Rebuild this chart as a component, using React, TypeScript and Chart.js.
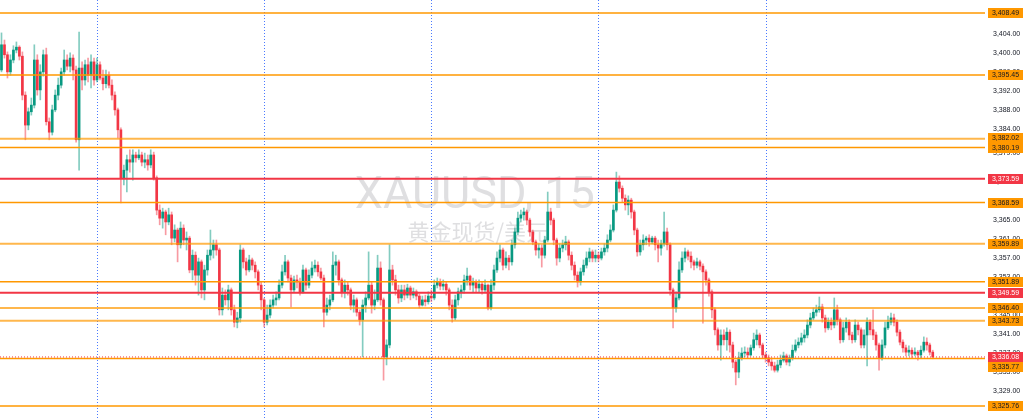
import React, { useEffect, useRef } from 'react';
import { Chart, registerables } from 'chart.js';

Chart.register(...registerables);

// ---- data (XAUUSD 15m candles) ----
const firstOpen = 3396.5;

const closes = [
  3401.8, 3399.7, 3396.1, 3398.6, 3400.7, 3401.3, 3399.4, 3391.2, 3384.9, 3387.7,
  3389.1, 3398.6, 3392.3, 3396.1, 3399.7, 3385.6, 3383.4, 3388.1, 3391.2, 3393.3,
  3396.1, 3398.6, 3397.3, 3399.0, 3396.5, 3381.8, 3396.9, 3394.4, 3397.6, 3395.4,
  3398.2, 3394.4, 3397.6, 3394.8, 3393.6, 3395.4, 3393.3, 3391.2, 3388.1, 3383.9,
  3373.8, 3375.4, 3377.6, 3377.1, 3378.6, 3378.0, 3378.6, 3377.1, 3377.6, 3376.5,
  3378.6, 3373.8, 3367.0, 3365.3, 3366.6, 3364.5, 3366.0, 3361.1, 3362.8, 3359.7,
  3363.2, 3360.7, 3361.1, 3354.4, 3357.5, 3353.3, 3356.1, 3350.2, 3354.4, 3357.5,
  3358.6, 3359.7, 3358.6, 3346.0, 3349.1, 3348.1, 3350.2, 3346.0, 3343.4, 3344.3,
  3358.6, 3356.1, 3354.4, 3356.5, 3355.4, 3354.0, 3351.2, 3348.1, 3343.4, 3344.9,
  3347.0, 3348.1, 3348.5, 3351.2, 3354.0, 3356.1, 3352.7, 3350.2, 3352.3, 3351.9,
  3349.8, 3354.4, 3351.2, 3353.3, 3354.8, 3355.4, 3354.0, 3352.7, 3345.5, 3347.0,
  3348.1, 3355.4, 3356.1, 3352.3, 3349.8, 3351.2, 3350.2, 3347.0, 3348.1, 3345.5,
  3343.9, 3347.0, 3348.5, 3351.2, 3347.0, 3348.1, 3354.8, 3348.1, 3336.1, 3338.6,
  3354.4, 3352.3, 3350.2, 3348.5, 3350.2, 3349.1, 3350.6, 3349.1, 3349.8, 3348.9,
  3347.0, 3348.1, 3347.7, 3348.9, 3348.5, 3351.2, 3351.9, 3351.0, 3351.4, 3350.2,
  3347.0, 3344.3, 3348.1, 3349.8, 3350.2, 3352.3, 3353.1, 3351.2, 3351.9, 3350.6,
  3351.4, 3350.2, 3351.2, 3346.4, 3351.2, 3354.4, 3356.9, 3358.6, 3355.4, 3356.9,
  3356.1, 3359.7, 3362.4, 3365.3, 3366.0, 3366.6, 3364.9, 3362.4, 3360.3, 3358.6,
  3359.0, 3357.5, 3360.7, 3366.6, 3364.9, 3360.7, 3356.9, 3359.0, 3359.7, 3360.3,
  3357.5, 3355.4, 3353.3, 3351.9, 3354.0, 3355.4, 3356.9, 3358.2, 3356.9, 3357.5,
  3356.9, 3358.2, 3359.0, 3360.7, 3362.8, 3367.0, 3372.9, 3371.6, 3369.5, 3368.1,
  3369.1, 3366.6, 3362.8, 3358.2, 3359.7, 3360.7, 3361.1, 3360.3, 3361.1, 3359.7,
  3359.0, 3359.9, 3362.4, 3359.7, 3350.2, 3346.4, 3348.5, 3354.4, 3356.9, 3358.2,
  3357.3, 3356.1, 3355.4, 3356.1, 3355.2, 3354.0, 3352.3, 3349.8, 3346.0, 3341.8,
  3338.6, 3340.7, 3339.7, 3341.3, 3338.6, 3335.0, 3332.9, 3335.9, 3336.9, 3337.1,
  3336.5, 3338.0, 3339.7, 3340.7, 3338.6, 3336.5, 3335.9, 3335.0, 3334.2, 3333.3,
  3334.4, 3335.4, 3336.3, 3335.0, 3335.9, 3337.5, 3338.6, 3339.2, 3340.1, 3340.7,
  3342.8, 3344.3, 3345.5, 3346.0, 3346.6, 3344.3, 3342.2, 3343.4, 3342.8, 3346.0,
  3343.9, 3339.7, 3342.2, 3343.4, 3340.7, 3339.7, 3342.8, 3341.8, 3338.6, 3340.7,
  3343.4, 3341.8, 3340.7, 3338.6, 3335.9, 3338.6, 3342.2, 3343.4, 3344.3, 3343.4,
  3341.3, 3339.2, 3338.0, 3337.1, 3337.5, 3336.7, 3337.1, 3336.5, 3337.5, 3339.2,
  3338.6, 3337.1, 3336.08,
];

const highs = [
  3404.3, 3402.8, 3400.3, 3399.7, 3401.6, 3402.4, 3401.6, 3400.3, 3391.9, 3388.5,
  3390.6, 3401.8, 3399.7, 3397.6, 3400.7, 3401.1, 3386.4, 3389.1, 3392.3, 3394.8,
  3396.9, 3400.7, 3399.7, 3400.1, 3399.7, 3397.3, 3404.5, 3398.2, 3398.6, 3399.0,
  3399.7, 3399.0, 3399.0, 3398.2, 3396.5, 3396.5, 3396.1, 3394.4, 3391.9, 3388.5,
  3384.3, 3376.5, 3378.6, 3379.7, 3379.7, 3379.2, 3379.7, 3379.2, 3379.0, 3378.6,
  3379.7, 3379.2, 3374.2, 3368.1, 3367.4, 3367.0, 3367.4, 3366.6, 3363.9, 3363.2,
  3364.5, 3363.9, 3362.4, 3361.5, 3358.6, 3358.2, 3356.9, 3356.5, 3355.4, 3358.6,
  3362.8, 3360.7, 3360.7, 3359.0, 3350.6, 3350.2, 3351.2, 3350.6, 3347.0, 3345.5,
  3359.7, 3359.0, 3356.9, 3357.5, 3356.9, 3356.1, 3354.4, 3351.9, 3348.5, 3347.0,
  3348.1, 3349.1, 3349.8, 3352.3, 3355.4, 3357.5, 3356.5, 3353.3, 3353.1, 3353.3,
  3352.7, 3355.4, 3354.8, 3354.4, 3356.1, 3356.5, 3356.1, 3354.8, 3353.3, 3348.5,
  3349.1, 3358.2, 3357.5, 3356.5, 3352.7, 3352.3, 3351.9, 3350.6, 3349.1, 3348.5,
  3346.0, 3348.1, 3349.8, 3358.2, 3351.9, 3350.2, 3357.5, 3356.1, 3348.5, 3339.7,
  3359.7, 3355.4, 3353.3, 3351.2, 3351.2, 3351.2, 3351.4, 3351.0, 3350.6, 3350.2,
  3349.3, 3348.9, 3349.1, 3349.8, 3350.2, 3352.3, 3352.7, 3352.5, 3352.3, 3351.9,
  3350.6, 3348.1, 3349.1, 3350.6, 3351.2, 3353.3, 3354.8, 3353.3, 3352.7, 3352.3,
  3352.3, 3351.9, 3352.3, 3351.4, 3352.3, 3355.4, 3358.2, 3359.7, 3359.0, 3358.2,
  3357.5, 3360.7, 3363.2, 3366.6, 3367.0, 3367.4, 3367.0, 3365.3, 3362.8, 3360.7,
  3359.9, 3359.7, 3361.5, 3370.8, 3367.4, 3365.3, 3361.1, 3359.9, 3360.7, 3361.5,
  3360.7, 3358.2, 3356.1, 3354.0, 3354.8, 3356.5, 3358.2, 3359.0, 3358.6, 3358.6,
  3358.2, 3359.0, 3359.9, 3361.8, 3363.9, 3368.1, 3375.0, 3374.2, 3372.1, 3370.2,
  3370.0, 3369.5, 3367.0, 3363.2, 3360.7, 3361.8, 3361.5, 3361.8, 3361.5, 3361.5,
  3360.7, 3360.7, 3366.6, 3363.2, 3360.1, 3350.6, 3349.8, 3356.1, 3358.2, 3359.0,
  3358.6, 3358.2, 3356.5, 3356.9, 3356.5, 3355.7, 3354.4, 3352.7, 3350.2, 3346.4,
  3342.2, 3341.8, 3341.8, 3342.2, 3341.8, 3339.2, 3335.4, 3337.1, 3338.0, 3338.2,
  3338.0, 3338.6, 3341.1, 3341.8, 3341.1, 3339.0, 3337.1, 3336.5, 3335.9, 3335.0,
  3335.4, 3336.5, 3337.1, 3336.7, 3336.5, 3338.6, 3339.7, 3340.1, 3341.1, 3341.8,
  3343.9, 3345.3, 3346.4, 3347.0, 3348.7, 3347.2, 3344.9, 3344.3, 3344.3, 3348.5,
  3347.0, 3344.3, 3343.4, 3344.3, 3343.9, 3341.3, 3343.9, 3343.4, 3342.2, 3341.8,
  3344.3, 3343.9, 3346.0, 3341.3, 3339.0, 3339.7, 3343.4, 3344.7, 3345.3, 3345.1,
  3343.9, 3341.8, 3339.7, 3338.6, 3338.4, 3338.0, 3338.0, 3337.5, 3338.4, 3340.3,
  3340.1, 3339.0, 3337.5,
];

const lows = [
  3396.1, 3399.0, 3394.8, 3395.4, 3398.0, 3400.1, 3398.6, 3390.2, 3381.8, 3383.9,
  3387.0, 3388.5, 3391.2, 3390.2, 3395.2, 3384.9, 3381.8, 3382.8, 3387.7, 3390.2,
  3392.7, 3395.4, 3396.5, 3396.1, 3394.4, 3381.3, 3375.4, 3392.3, 3393.3, 3394.0,
  3392.7, 3393.3, 3394.0, 3394.4, 3392.3, 3392.7, 3392.7, 3390.2, 3387.0, 3382.2,
  3368.5, 3372.3, 3370.8, 3375.0, 3373.3, 3377.1, 3377.6, 3376.3, 3375.9, 3375.4,
  3375.9, 3373.3, 3366.0, 3363.9, 3363.2, 3361.8, 3363.9, 3359.7, 3360.3, 3356.1,
  3359.0, 3359.7, 3358.6, 3353.8, 3352.3, 3351.2, 3349.1, 3348.5, 3348.1, 3353.3,
  3356.5, 3356.9, 3357.5, 3344.9, 3344.9, 3347.0, 3346.0, 3344.9, 3342.4, 3342.2,
  3343.4, 3354.8, 3353.3, 3354.0, 3354.4, 3352.7, 3350.2, 3346.0, 3342.4, 3342.8,
  3344.3, 3346.4, 3347.0, 3348.1, 3350.6, 3353.3, 3351.9, 3346.6, 3349.8, 3350.6,
  3349.1, 3349.5, 3350.2, 3350.6, 3352.7, 3354.0, 3353.1, 3352.3, 3342.4, 3344.9,
  3346.0, 3347.7, 3353.3, 3351.2, 3348.7, 3348.5, 3349.1, 3346.0, 3345.5, 3344.7,
  3342.8, 3336.1, 3345.5, 3348.1, 3345.3, 3346.0, 3347.7, 3347.0, 3331.2, 3334.4,
  3338.0, 3351.2, 3349.1, 3347.4, 3347.7, 3348.1, 3348.5, 3348.1, 3348.5, 3348.1,
  3346.4, 3346.8, 3346.8, 3347.2, 3347.7, 3348.1, 3350.6, 3350.2, 3350.2, 3349.1,
  3346.0, 3343.4, 3343.9, 3347.0, 3348.5, 3349.5, 3351.2, 3350.2, 3349.8, 3349.8,
  3349.8, 3349.3, 3349.8, 3346.0, 3346.0, 3350.2, 3353.9, 3356.1, 3354.4, 3354.8,
  3354.4, 3355.4, 3359.0, 3361.8, 3364.5, 3364.9, 3363.9, 3361.5, 3359.7, 3357.5,
  3356.9, 3355.0, 3356.9, 3360.3, 3363.9, 3359.7, 3355.4, 3356.1, 3358.2, 3358.6,
  3356.5, 3354.4, 3352.3, 3350.8, 3351.2, 3353.3, 3354.8, 3356.1, 3356.1, 3356.1,
  3356.1, 3356.5, 3357.5, 3358.2, 3360.3, 3362.4, 3366.6, 3370.8, 3368.7, 3367.0,
  3366.0, 3365.3, 3361.8, 3357.3, 3357.5, 3358.6, 3359.7, 3359.4, 3359.9, 3358.6,
  3356.1, 3357.5, 3359.4, 3358.6, 3349.1, 3342.2, 3345.5, 3348.1, 3353.9, 3356.1,
  3356.5, 3354.8, 3354.4, 3354.8, 3354.4, 3343.2, 3351.2, 3348.9, 3344.3, 3340.7,
  3337.5, 3335.4, 3338.6, 3337.5, 3337.1, 3333.8, 3330.2, 3331.7, 3335.4, 3336.1,
  3335.9, 3336.3, 3337.5, 3338.6, 3338.0, 3335.9, 3335.0, 3334.2, 3333.3, 3332.9,
  3332.9, 3333.8, 3335.0, 3334.4, 3334.2, 3335.4, 3337.1, 3338.0, 3338.6, 3339.2,
  3340.1, 3342.2, 3343.9, 3344.7, 3345.5, 3343.4, 3341.3, 3341.8, 3341.8, 3342.2,
  3342.8, 3339.0, 3339.2, 3341.3, 3339.7, 3339.0, 3339.2, 3340.7, 3338.0, 3338.0,
  3334.2, 3340.7, 3339.7, 3337.5, 3333.3, 3335.4, 3338.0, 3341.8, 3342.8, 3342.6,
  3340.5, 3338.6, 3337.1, 3336.3, 3336.3, 3335.9, 3336.3, 3335.4, 3335.9, 3337.1,
  3337.5, 3336.5, 3335.7,
];

const emptyBarsRight = 17;
const priceTicks = [3404, 3400, 3396, 3392, 3388, 3384, 3379, 3373, 3369, 3365, 3361, 3357, 3353, 3349, 3345, 3341, 3337, 3333, 3329];
const solidOrangeLevels = [3408.49, 3395.45, 3380.19, 3368.59, 3351.89, 3335.77, 3325.76];
const softOrangeLevels = [3382.02, 3359.89, 3346.40, 3343.73];
const redLevels = [3373.59, 3349.59];
const lastPrice = 3336.08;
const sessionBreaks = [32, 88, 144, 200, 256];
const yMin = 3323.23;
const yMax = 3411.23;
const watermarkTitle = 'XAUUSD, 15';
const watermarkSubtitle = '黄金现货/美元';

const UP = '#089981';
const DOWN = '#F23645';
const UP_WICK = 'rgba(8,153,129,0.5)';
const DOWN_WICK = 'rgba(242,54,69,0.5)';
const ORANGE = '#FF9800';

const fmt = (v: number) => v.toLocaleString('en-US', { minimumFractionDigits: 2, maximumFractionDigits: 2 });

export default function App() {
  const ref = useRef<HTMLCanvasElement | null>(null);

  useEffect(() => {
    if (!ref.current) return;
    const opens = [firstOpen, ...closes.slice(0, -1)];
    const n = closes.length + emptyBarsRight;
    const labels = Array.from({ length: n }, (_, i) => String(i));
    const isUp = closes.map((c, i) => c >= opens[i]);

    const overlay = {
      id: 'overlay',
      beforeDatasetsDraw(chart: any) {
        const { ctx, chartArea: ca, scales } = chart;
        const x = scales.x;
        ctx.save();
        ctx.fillStyle = 'rgba(150,150,155,0.3)';
        ctx.textAlign = 'center';
        ctx.textBaseline = 'middle';
        ctx.font = '45px Roboto, "Liberation Sans", sans-serif';
        ctx.fillText(watermarkTitle, ca.left + ca.width * 0.482, ca.top + ca.height * 0.47);
        ctx.font = '22px "Noto Sans CJK SC", sans-serif';
        ctx.fillText(watermarkSubtitle, ca.left + ca.width * 0.485, ca.top + ca.height * 0.553);
        ctx.strokeStyle = 'rgba(41,98,255,0.85)';
        ctx.lineWidth = 1;
        ctx.setLineDash([1, 2]);
        for (const idx of sessionBreaks) {
          const px = Math.round(x.getPixelForValue(idx)) + 0.5;
          ctx.beginPath();
          ctx.moveTo(px, ca.top);
          ctx.lineTo(px, ca.bottom);
          ctx.stroke();
        }
        ctx.restore();
      },
      afterDatasetsDraw(chart: any) {
        const { ctx, chartArea: ca, scales } = chart;
        const y = scales.y;
        ctx.save();
        const hline = (v: number, color: string, w: number, dash: number[] = []) => {
          const py = y.getPixelForValue(v);
          ctx.strokeStyle = color;
          ctx.lineWidth = w;
          ctx.setLineDash(dash);
          ctx.beginPath();
          ctx.moveTo(ca.left, py);
          ctx.lineTo(ca.right, py);
          ctx.stroke();
        };
        softOrangeLevels.forEach((v) => hline(v, 'rgba(255,152,0,0.7)', 2));
        solidOrangeLevels.forEach((v) => hline(v, ORANGE, 1.5));
        redLevels.forEach((v) => hline(v, DOWN, 2));
        hline(lastPrice, DOWN, 1, [1, 2]);
        ctx.restore();
      },
      afterDraw(chart: any) {
        const { ctx, chartArea: ca, scales } = chart;
        const y = scales.y;
        const H = 10;
        const items: any[] = [
          ...solidOrangeLevels.map((v) => ({ v, bg: ORANGE, fg: '#131722', fixed: false })),
          ...softOrangeLevels.map((v) => ({ v, bg: ORANGE, fg: '#131722', fixed: false })),
          ...redLevels.map((v) => ({ v, bg: DOWN, fg: '#ffffff', fixed: false })),
          { v: lastPrice, bg: DOWN, fg: '#ffffff', fixed: true },
        ].map((it) => ({ ...it, py: y.getPixelForValue(it.v) }));
        items.sort((a, b) => a.py - b.py);
        for (let i = 1; i < items.length; i++) {
          const a = items[i - 1];
          const b = items[i];
          const gap = b.py - a.py;
          if (gap < H) {
            const need = H - gap;
            if (a.fixed) b.py += need;
            else if (b.fixed) a.py -= need;
            else {
              a.py -= need / 2;
              b.py += need / 2;
            }
          }
        }
        ctx.save();
        ctx.font = '7px "Liberation Sans", Arial, sans-serif';
        ctx.textAlign = 'center';
        ctx.textBaseline = 'middle';
        const bx = ca.right + 3;
        const bw = 35;
        const draw = (it: any) => {
          const top = Math.round(it.py - H / 2);
          ctx.fillStyle = it.bg;
          ctx.fillRect(bx, top, bw, H);
          ctx.fillStyle = it.fg;
          ctx.fillText(fmt(it.v), bx + bw / 2, top + H / 2 + 0.5);
        };
        items.filter((it) => !it.fixed).forEach(draw);
        items.filter((it) => it.fixed).forEach(draw);
        ctx.restore();
      },
    };

    const chart = new Chart(ref.current, {
      type: 'bar',
      data: {
        labels,
        datasets: [
          {
            label: 'wick',
            data: lows.map((l, i) => [Math.min(l, opens[i], closes[i]), Math.max(highs[i], opens[i], closes[i])]),
            backgroundColor: isUp.map((u) => (u ? UP_WICK : DOWN_WICK)),
            barThickness: 1,
            grouped: false,
            order: 2,
          } as any,
          {
            label: 'body',
            data: opens.map((o, i) => [o, closes[i]]),
            backgroundColor: isUp.map((u) => (u ? UP : DOWN)),
            barThickness: 2,
            minBarLength: 1,
            grouped: false,
            order: 1,
          } as any,
        ],
      },
      options: {
        responsive: false,
        maintainAspectRatio: false,
        devicePixelRatio: 1,
        animation: false,
        events: [],
        layout: { padding: 0, autoPadding: false },
        plugins: { legend: { display: false }, tooltip: { enabled: false } },
        scales: {
          x: {
            type: 'category',
            display: false,
            offset: true,
            grid: { display: false },
          },
          y: {
            position: 'right',
            min: yMin,
            max: yMax,
            grid: { display: false, drawTicks: false },
            border: { display: false },
            afterBuildTicks: (scale: any) => {
              scale.ticks = priceTicks.map((v) => ({ value: v }));
            },
            afterFit: (scale: any) => {
              scale.width = 39;
              scale.paddingTop = 0;
              scale.paddingBottom = 0;
            },
            ticks: {
              autoSkip: false,
              padding: 8,
              color: '#131722',
              font: { family: '"Liberation Sans", Arial, sans-serif', size: 7 },
              callback: (v: any) => fmt(Number(v)),
            },
          },
        },
      },
      plugins: [overlay],
    } as any);

    return () => chart.destroy();
  }, []);

  return (
    <div style={{ position: 'fixed', left: 0, top: 0, width: 1024, height: 418, background: '#ffffff' }}>
      <canvas ref={ref} width={1024} height={418} style={{ display: 'block', width: 1024, height: 418 }} />
    </div>
  );
}
